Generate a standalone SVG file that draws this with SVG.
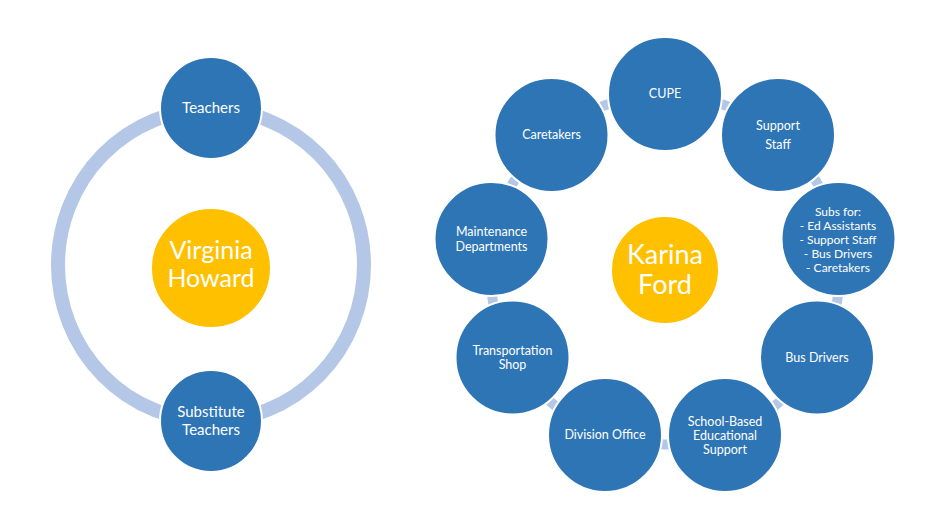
<svg xmlns="http://www.w3.org/2000/svg" width="940" height="528" viewBox="0 0 940 528">
<style>
.node{fill:#2e75b6;stroke:#ffffff;stroke-width:2}
.hub{fill:#ffc000;stroke:#ffffff;stroke-width:2}
.ring{fill:none;stroke:#b4c7e7}
text{font-family:Lato,"Open Sans","Liberation Sans",sans-serif;fill:#ffffff;text-anchor:middle}
.s{font-size:12.5px}
.t{font-size:12px}
.m{font-size:15px}
.l{font-size:25px}
</style>
<rect width="940" height="528" fill="#ffffff"/>
<g id="connectors">
<ellipse class="ring" cx="211" cy="265" rx="153" ry="156" stroke-width="14"/>
<circle class="ring" cx="665" cy="269.5" r="175" stroke-width="10"/>
</g>
<g id="virginia"><circle class="hub" cx="211" cy="268" r="60"/><text class="l" x="211" y="259">Virginia</text><text class="l" x="211" y="287">Howard</text></g>
<g id="teachers"><circle class="node" cx="211" cy="108" r="51"/><text class="m" x="211" y="113">Teachers</text></g>
<g id="subteachers"><circle class="node" cx="211" cy="421" r="51"/><text class="m" x="211" y="417">Substitute</text><text class="m" x="211" y="435">Teachers</text></g>
<g id="karina"><circle class="hub" cx="665" cy="270" r="54"/><text class="l" x="665" y="264" style="font-size:27px">Karina</text><text class="l" x="665" y="294" style="font-size:27px">Ford</text></g>
<g id="cupe"><circle class="node" cx="665" cy="94" r="57"/><text class="s" x="665" y="98">CUPE</text></g>
<g id="support"><circle class="node" cx="778" cy="135" r="57"/><text class="s" x="778" y="130">Support</text><text class="s" x="778" y="149">Staff</text></g>
<g id="subs"><circle class="node" cx="838.5" cy="239" r="57"/><text class="t" x="838" y="216">Subs for:</text><text class="t" x="838" y="230">- Ed Assistants</text><text class="t" x="838" y="244">- Support Staff</text><text class="t" x="838" y="258">- Bus Drivers</text><text class="t" x="838" y="272">- Caretakers</text></g>
<g id="busdrivers"><circle class="node" cx="817" cy="357.5" r="57"/><text class="s" x="817" y="362">Bus Drivers</text></g>
<g id="schoolbased"><circle class="node" cx="725" cy="435" r="57"/><text class="s" x="725" y="426">School-Based</text><text class="s" x="725" y="440">Educational</text><text class="s" x="725" y="454">Support</text></g>
<g id="division"><circle class="node" cx="605" cy="435" r="57"/><text class="s" x="605" y="439">Division Office</text></g>
<g id="transportation"><circle class="node" cx="512.5" cy="357.5" r="57"/><text class="s" x="512.5" y="355">Transportation</text><text class="s" x="512.5" y="369">Shop</text></g>
<g id="maintenance"><circle class="node" cx="491.5" cy="239" r="57"/><text class="s" x="491.5" y="236">Maintenance</text><text class="s" x="491.5" y="251">Departments</text></g>
<g id="caretakers"><circle class="node" cx="551.5" cy="135" r="57"/><text class="s" x="551.5" y="139">Caretakers</text></g>
</svg>
